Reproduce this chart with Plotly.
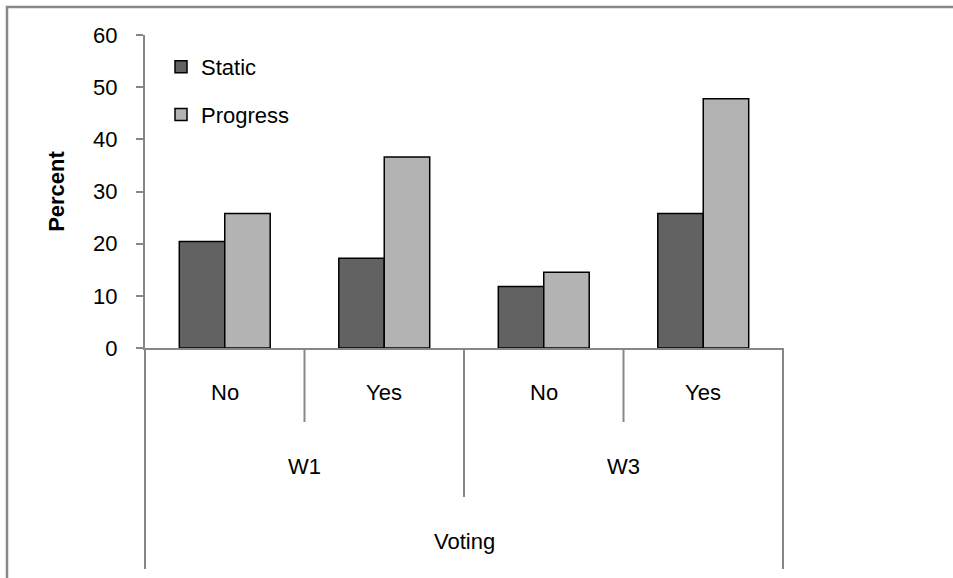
import plotly.graph_objects as go

# ---- data ----
waves = ["W1", "W1", "W3", "W3"]
voting = ["No", "Yes", "No", "Yes"]
static_vals = [20.4, 17.2, 11.8, 25.8]
progress_vals = [25.8, 36.6, 14.5, 47.8]
y_ticks = [0, 10, 20, 30, 40, 50, 60]
outer_title = "Voting"
y_title = "Percent"

# ---- layout constants ----
W, H = 953, 578
ML, MR, MT, MB = 145, 170, 35, 230
PW, PH = W - ML - MR, H - MT - MB
GREY = "#878787"
FONT = "Liberation Sans, Arial, sans-serif"
FS = 22


def py(pix_y):
    """pixel y (from top) -> paper y"""
    return (H - MB - pix_y) / PH


def px(pix_x):
    return (pix_x - ML) / PW


cats = [f"{w} {v}" for w, v in zip(waves, voting)]
n = len(cats)

fig = go.Figure()
fig.add_trace(go.Bar(x=cats, y=static_vals, name="Static", legendgroup="a",
                     marker=dict(color="#626262", line=dict(color="black", width=1.5))))
fig.add_trace(go.Bar(x=cats, y=progress_vals, name="Progress", legendgroup="b",
                     marker=dict(color="#b3b3b3", line=dict(color="black", width=1.5))))

shapes = []
# outer chart border
shapes.append(dict(type="rect", xref="paper", yref="paper",
                   x0=px(7), x1=px(W + 20), y0=py(7), y1=py(H + 20),
                   line=dict(color=GREY, width=2.5), fillcolor="rgba(0,0,0,0)", layer="below"))
# category dividers
ends = {0: 569, n: 569}
for k in range(n + 1):
    if k in ends:
        yend = ends[k]
    elif waves[k - 1] != waves[k]:
        yend = 497
    else:
        yend = 422
    shapes.append(dict(type="line", xref="paper", yref="paper",
                       x0=k / n, x1=k / n, y0=0, y1=py(yend),
                       line=dict(color=GREY, width=2)))

annotations = []
for i, v in enumerate(voting):
    annotations.append(dict(x=i, y=py(392), xref="x", yref="paper", text=v, showarrow=False,
                            font=dict(family=FONT, size=FS, color="black"),
                            xanchor="center", yanchor="middle"))
seen = []
for w in waves:
    if w not in seen:
        seen.append(w)
for w in seen:
    idx = [i for i, ww in enumerate(waves) if ww == w]
    annotations.append(dict(x=sum(idx) / len(idx), y=py(466), xref="x", yref="paper", text=w,
                            showarrow=False, font=dict(family=FONT, size=FS, color="black"),
                            xanchor="center", yanchor="middle"))
annotations.append(dict(x=(n - 1) / 2, y=py(541), xref="x", yref="paper", text=outer_title,
                        showarrow=False, font=dict(family=FONT, size=FS, color="black"),
                        xanchor="center", yanchor="middle"))

fig.update_layout(
    width=W, height=H,
    margin=dict(l=ML, r=MR, t=MT, b=MB, autoexpand=False),
    paper_bgcolor="white", plot_bgcolor="white",
    barmode="group", bargap=0.43, bargroupgap=0,
    font=dict(family=FONT, size=FS, color="black"),
    showlegend=True,
    legend=dict(x=px(161), y=py(46), xanchor="left", yanchor="top",
                bgcolor="rgba(0,0,0,0)", font=dict(family=FONT, size=FS, color="black"),
                traceorder="grouped", tracegroupgap=16, itemwidth=30),
    xaxis=dict(type="category", range=[-0.5, n - 0.5], showticklabels=False, ticks="",
               showline=True, linecolor=GREY, linewidth=2, showgrid=False, zeroline=False,
               fixedrange=True),
    yaxis=dict(range=[0, 60], tickvals=y_ticks, showline=True, linecolor=GREY, linewidth=2,
               ticks="outside", ticklen=7, tickwidth=1.5, tickcolor=GREY, showgrid=False,
               zeroline=False, ticklabelstandoff=14,
               tickfont=dict(family=FONT, size=FS, color="black"),
               title=dict(text=f"<b>{y_title}</b>", standoff=22,
                          font=dict(family=FONT, size=FS, color="black"))),
    shapes=shapes,
    annotations=annotations,
)

fig.write_html("out.html")
